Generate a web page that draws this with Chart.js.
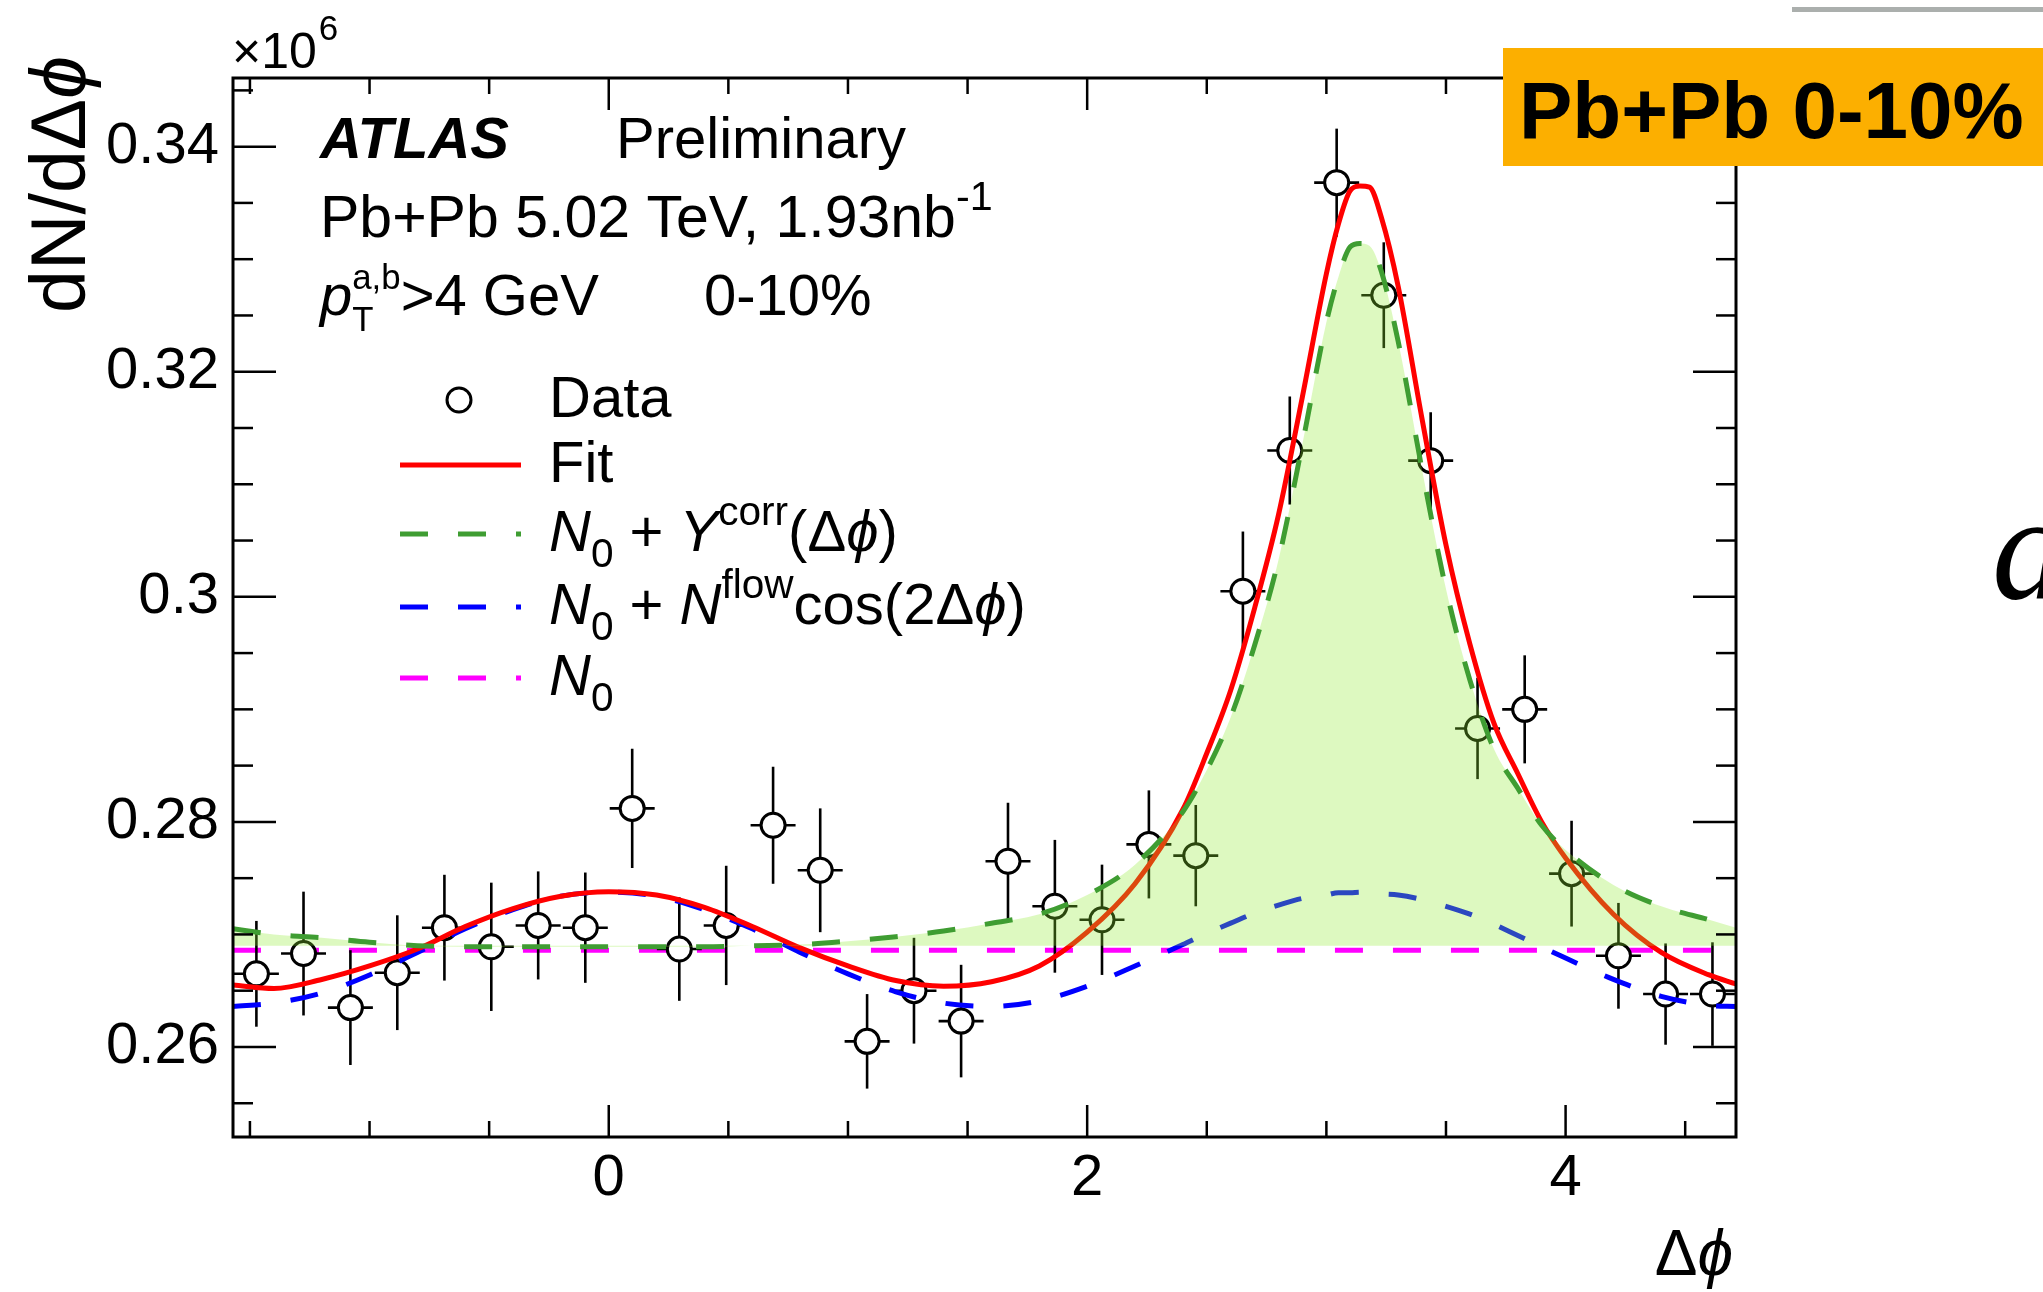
<!DOCTYPE html>
<html>
<head>
<meta charset="utf-8">
<script src="https://cdn.jsdelivr.net/npm/chart.js"></script>
<style>
  html, body { margin: 0; padding: 0; background: #fff; }
  canvas { display: block; }
</style>
</head>
<body>
<canvas id="grafico" width="2043" height="1292"></canvas>
<script>
// Data points: bin centres in Δφ, dN/dΔφ in units of 1e6
const dataX = [-1.473, -1.276, -1.080, -0.884, -0.687, -0.491, -0.295, -0.098,
               0.098, 0.295, 0.491, 0.687, 0.884, 1.080, 1.276, 1.473,
               1.669, 1.865, 2.062, 2.258, 2.454, 2.651, 2.847, 3.043,
               3.240, 3.436, 3.632, 3.829, 4.025, 4.221, 4.418, 4.614];
const dataY = [0.2665, 0.2683, 0.2635, 0.2666, 0.2706, 0.2689, 0.2708, 0.2706,
               0.2812, 0.2687, 0.2708, 0.2797, 0.2757, 0.2605, 0.2650, 0.2623,
               0.2765, 0.2725, 0.2713, 0.2780, 0.2770, 0.3005, 0.3130, 0.3368,
               0.3268, 0.3121, 0.2883, 0.2900, 0.2754, 0.2681, 0.2647, 0.2647];
const dataErr = [0.0047, 0.0055, 0.0051, 0.0051, 0.0047, 0.0057, 0.0048, 0.0049,
                 0.0053, 0.0046, 0.0053, 0.0052, 0.0055, 0.0042, 0.0047, 0.0050,
                 0.0052, 0.0059, 0.0049, 0.0048, 0.0045, 0.0053, 0.0048, 0.0048,
                 0.0047, 0.0043, 0.0045, 0.0048, 0.0047, 0.0047, 0.0045, 0.0046];
const binHalf = 0.094;

// Curves
const curveX = [-1.571, -1.4, -1.2, -1.0, -0.8, -0.6, -0.4, -0.2, 0, 0.2, 0.4, 0.6,
                0.8, 1.0, 1.2, 1.4, 1.6, 1.8, 2.0, 2.2, 2.4, 2.5, 2.6, 2.7,
                2.8, 2.9, 3.0, 3.05, 3.1, 3.14, 3.18, 3.23, 3.3, 3.4, 3.5, 3.6,
                3.7, 3.8, 3.9, 4.0, 4.2, 4.4, 4.6, 4.712];
const fitY = [0.2655, 0.2652, 0.2660, 0.2672, 0.2687, 0.2707, 0.2723, 0.2734, 0.2738, 0.2735, 0.2724, 0.2707,
              0.2688, 0.2672, 0.2659, 0.2654, 0.2658, 0.2672, 0.2702, 0.2745, 0.2811, 0.2861, 0.2917, 0.2990,
              0.3073, 0.3178, 0.3287, 0.3331, 0.3361, 0.3365, 0.3364, 0.3337, 0.3276, 0.3158, 0.3046, 0.2958,
              0.2888, 0.2843, 0.2800, 0.2768, 0.2718, 0.2684, 0.2664, 0.2656];
const corrY = [0.2705, 0.2700, 0.2697, 0.2693, 0.2690, 0.2689, 0.2689, 0.2689, 0.2689, 0.2689, 0.2689, 0.2690,
               0.2691, 0.2694, 0.2698, 0.2703, 0.2710, 0.2718, 0.2735, 0.2762, 0.2809, 0.2846, 0.2893, 0.2957,
               0.3033, 0.3136, 0.3244, 0.3284, 0.3311, 0.3314, 0.3312, 0.3289, 0.3227, 0.3113, 0.3007, 0.2926,
               0.2865, 0.2830, 0.2797, 0.2775, 0.2744, 0.2725, 0.2713, 0.2706];
const flowY = [0.2636, 0.2639, 0.2648, 0.2664, 0.2684, 0.2705, 0.2722, 0.2734, 0.27375, 0.2734, 0.2722, 0.2705,
               0.2684, 0.2665, 0.2649, 0.2639, 0.2636, 0.2641, 0.2654, 0.2672, 0.2691, 0.2701, 0.2710, 0.2719,
               0.2726, 0.2732, 0.2735, 0.2737, 0.2737, 0.27375, 0.2737, 0.2736, 0.2735, 0.2731, 0.2725, 0.2718,
               0.2709, 0.2699, 0.2689, 0.2679, 0.2660, 0.2645, 0.2637, 0.2636];
const n0X = [-1.571, 4.712];
const n0Y = [0.2686, 0.2686];
const fillBase = 0.2690;

const xTicks = [0, 2, 4];
const xTickLabels = ['0', '2', '4'];
const yTicks = [0.26, 0.28, 0.30, 0.32, 0.34];
const yTickLabels = ['0.26', '0.28', '0.3', '0.32', '0.34'];

const FONT = '"Liberation Sans", Arial, Helvetica, "DejaVu Sans", sans-serif';
const GREEN = '#3f9d32';
const DASH = [28, 30];

function pares(xs, ys) {
    return xs.map((x, i) => ({ x: x, y: ys[i] }));
}

// draws a run of text pieces (italic, bold, sup, sub); returns the end x
function texto(ctx, x, y, partes, size, medirSo) {
    let cx = x;
    let guardado = 0;
    partes.forEach(p => {
        const s = (p.sup || p.sub) ? size * (p.f || 0.7) : size;
        ctx.font = (p.i ? 'italic ' : '') + (p.b ? 'bold ' : '') + s + 'px ' + FONT;
        const dy = p.sup ? -size * 0.45 : (p.sub ? size * 0.27 : 0);
        if (!medirSo) ctx.fillText(p.t, cx, y + dy);
        const w = ctx.measureText(p.t).width;
        if (p.stack) {
            guardado = w;
        } else {
            cx += Math.max(w, guardado);
            guardado = 0;
        }
    });
    return cx;
}

function linha(ctx, x1, y1, x2, y2) {
    ctx.beginPath();
    ctx.moveTo(x1, y1);
    ctx.lineTo(x2, y2);
    ctx.stroke();
}

const errorBars = {
    id: 'errorBars',
    beforeDatasetDraw(chart, args) {
        if (args.index !== 0) return;
        const { ctx, scales: { x, y } } = chart;
        ctx.save();
        ctx.strokeStyle = '#000';
        ctx.lineWidth = 2.6;
        dataX.forEach((v, i) => {
            const px = x.getPixelForValue(v);
            const py = y.getPixelForValue(dataY[i]);
            linha(ctx, px, y.getPixelForValue(dataY[i] - dataErr[i]), px, y.getPixelForValue(dataY[i] + dataErr[i]));
            linha(ctx, x.getPixelForValue(v - binHalf), py, x.getPixelForValue(v + binHalf), py);
        });
        ctx.restore();
    }
};

const decoracao = {
    id: 'decoracao',
    afterDraw(chart) {
        const { ctx, chartArea: a, scales: { x, y } } = chart;
        ctx.save();
        ctx.strokeStyle = '#000';
        ctx.fillStyle = '#000';

        // frame and inward ticks on all four sides
        ctx.lineWidth = 2.5;
        for (let k = -3; k <= 9; k++) {
            const v = k * 0.5;
            const px = x.getPixelForValue(v);
            if (px < a.left + 1 || px > a.right - 1) continue;
            const len = xTicks.includes(v) ? 32 : 16;
            linha(ctx, px, a.bottom, px, a.bottom - len);
            linha(ctx, px, a.top, px, a.top + len);
        }
        for (let k = 51; k <= 69; k++) {
            const v = k * 0.005;
            const py = y.getPixelForValue(v);
            if (py < a.top + 1 || py > a.bottom - 1) continue;
            const len = (k % 4 === 0) ? 43 : 20;
            linha(ctx, a.left, py, a.left + len, py);
            linha(ctx, a.right, py, a.right - len, py);
        }
        ctx.lineWidth = 3;
        ctx.strokeRect(a.left, a.top, a.right - a.left, a.bottom - a.top);

        // ×10^6
        ctx.font = '50px ' + FONT;
        ctx.fillText('×10', 232, 68);
        const w10 = ctx.measureText('×10').width;
        ctx.font = '35px ' + FONT;
        ctx.fillText('6', 232 + w10 + 2, 40);

        // axis titles
        const tituloY = [{ t: 'dN/dΔ' }, { t: 'ϕ', i: true }];
        const wy = texto(ctx, 0, 0, tituloY, 77, true);
        ctx.save();
        ctx.translate(85, 56);
        ctx.rotate(-Math.PI / 2);
        texto(ctx, -wy, 0, tituloY, 77);
        ctx.restore();
        const tituloX = [{ t: 'Δ' }, { t: 'ϕ', i: true }];
        const wx = texto(ctx, 0, 0, tituloX, 64, true);
        texto(ctx, 1733 - wx, 1275, tituloX, 64);

        // ATLAS block
        texto(ctx, 320, 158, [{ t: 'ATLAS', b: true, i: true }], 58);
        texto(ctx, 616, 158, [{ t: 'Preliminary' }], 58);
        texto(ctx, 320, 237, [{ t: 'Pb+Pb 5.02 TeV, 1.93nb' }, { t: '-1', sup: true }], 59);
        texto(ctx, 320, 315, [{ t: 'p', i: true }, { t: 'a,b', sup: true, stack: true, f: 0.6 }, { t: 'T', sub: true, f: 0.6 }, { t: '>4 GeV' }], 58);
        texto(ctx, 704, 315, [{ t: '0-10%' }], 58);

        // legend
        ctx.lineWidth = 3;
        ctx.beginPath();
        ctx.arc(459, 400, 12, 0, Math.PI * 2);
        ctx.fillStyle = '#fff';
        ctx.fill();
        ctx.stroke();
        ctx.fillStyle = '#000';
        texto(ctx, 549, 417, [{ t: 'Data' }], 58);

        const entradas = [
            { y: 465, cor: '#ff0000', dash: [], txt: [{ t: 'Fit' }] },
            { y: 534, cor: GREEN, dash: DASH, txt: [{ t: 'N', i: true }, { t: '0', sub: true }, { t: ' + ' }, { t: 'Y', i: true }, { t: 'corr', sup: true }, { t: '(Δ' }, { t: 'ϕ', i: true }, { t: ')' }] },
            { y: 607, cor: '#0000ff', dash: DASH, txt: [{ t: 'N', i: true }, { t: '0', sub: true }, { t: ' + ' }, { t: 'N', i: true }, { t: 'flow', sup: true }, { t: 'cos(2Δ' }, { t: 'ϕ', i: true }, { t: ')' }] },
            { y: 678, cor: '#ff00ff', dash: DASH, txt: [{ t: 'N', i: true }, { t: '0', sub: true }] }
        ];
        entradas.forEach(e => {
            ctx.save();
            ctx.strokeStyle = e.cor;
            ctx.lineWidth = 5;
            ctx.setLineDash(e.dash);
            linha(ctx, 400, e.y, 521, e.y);
            ctx.restore();
            texto(ctx, 549, e.y + 17, e.txt, 58);
        });

        // slide decorations on the right
        ctx.fillStyle = '#fcaf00';
        ctx.fillRect(1503, 48, 540, 118);
        ctx.fillStyle = '#000';
        texto(ctx, 1519, 138, [{ t: 'Pb+Pb 0-10%', b: true }], 80);
        ctx.fillStyle = '#abafad';
        ctx.fillRect(1792, 7, 251, 5);
        ctx.fillStyle = '#000';
        ctx.font = 'italic 150px "Liberation Serif", "DejaVu Serif", serif';
        ctx.fillText('a', 1992, 598);

        ctx.restore();
    }
};

const ctx = document.getElementById('grafico').getContext('2d');
const grafico = new Chart(ctx, {
    type: 'scatter',
    data: {
        datasets: [
            {
                label: 'Data',
                data: pares(dataX, dataY),
                pointRadius: 12,
                pointBorderWidth: 3,
                pointBorderColor: '#000',
                pointBackgroundColor: '#fff',
                order: 5
            },
            {
                label: 'N0',
                data: pares(n0X, n0Y),
                showLine: true,
                borderColor: '#ff00ff',
                borderWidth: 5,
                borderDash: DASH,
                pointRadius: 0,
                order: 6
            },
            {
                label: 'N0 + Nflow cos(2Δφ)',
                data: pares(curveX, flowY),
                showLine: true,
                borderColor: '#0000ff',
                borderWidth: 5,
                borderDash: DASH,
                pointRadius: 0,
                cubicInterpolationMode: 'monotone',
                order: 4
            },
            {
                label: 'Fit',
                data: pares(curveX, fitY),
                showLine: true,
                borderColor: '#ff0000',
                borderWidth: 5,
                pointRadius: 0,
                cubicInterpolationMode: 'monotone',
                order: 3
            },
            {
                label: 'area',
                data: pares(curveX, corrY),
                showLine: true,
                borderColor: 'rgba(0,0,0,0)',
                borderWidth: 0,
                pointRadius: 0,
                cubicInterpolationMode: 'monotone',
                fill: { value: fillBase },
                backgroundColor: 'rgba(142,235,48,0.3)',
                order: 1
            },
            {
                label: 'N0 + Ycorr(Δφ)',
                data: pares(curveX, corrY),
                showLine: true,
                borderColor: GREEN,
                borderWidth: 5,
                borderDash: DASH,
                pointRadius: 0,
                cubicInterpolationMode: 'monotone',
                order: 0
            }
        ]
    },
    options: {
        responsive: false,
        devicePixelRatio: 1,
        animation: false,
        events: [],
        layout: { padding: { left: 0, right: 307, top: 78, bottom: 0 } },
        plugins: {
            legend: { display: false },
            tooltip: { enabled: false }
        },
        scales: {
            x: {
                type: 'linear',
                min: -1.5708,
                max: 4.7124,
                grid: { display: false, drawTicks: false },
                border: { display: false },
                afterBuildTicks: axis => { axis.ticks = xTicks.map(v => ({ value: v })); },
                afterFit: axis => { axis.height = 155; },
                ticks: {
                    font: { family: FONT, size: 58 },
                    color: '#000',
                    padding: 7,
                    maxRotation: 0,
                    autoSkip: false,
                    callback: v => xTickLabels[xTicks.indexOf(v)]
                }
            },
            y: {
                type: 'linear',
                min: 0.2520,
                max: 0.3461,
                grid: { display: false, drawTicks: false },
                border: { display: false },
                afterBuildTicks: axis => { axis.ticks = yTicks.map(v => ({ value: v })); },
                afterFit: axis => { axis.width = 233; },
                ticks: {
                    font: { family: FONT, size: 58 },
                    color: '#000',
                    padding: 14,
                    autoSkip: false,
                    callback: v => yTickLabels[yTicks.indexOf(v)]
                }
            }
        }
    },
    plugins: [errorBars, decoracao]
});
</script>
</body>
</html>
